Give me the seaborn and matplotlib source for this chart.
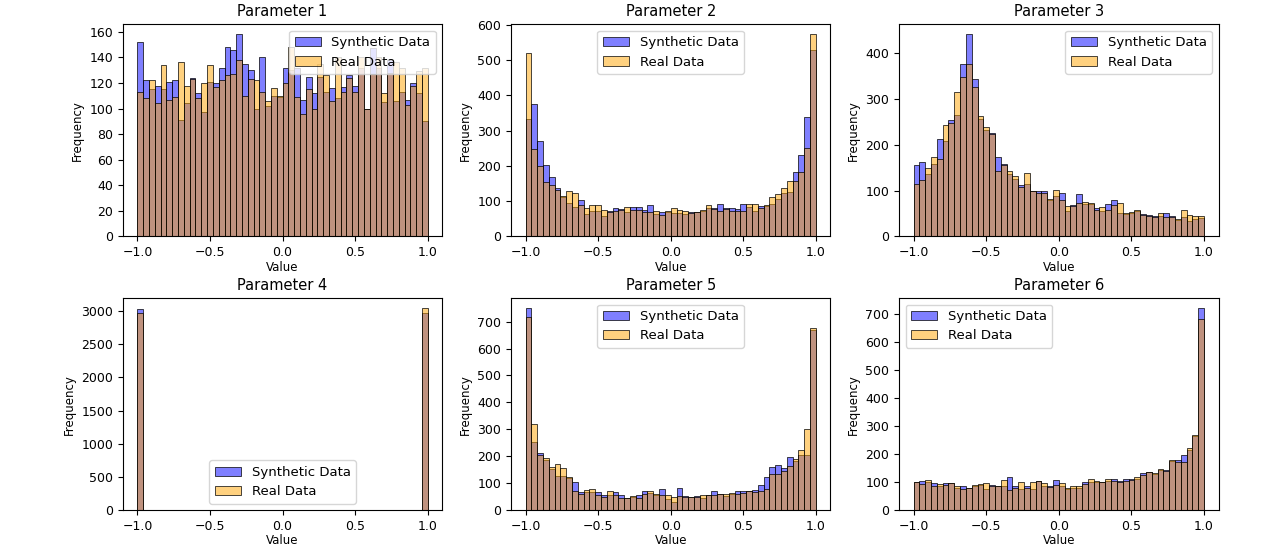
import numpy as np
import pandas as pd
import matplotlib
matplotlib.use("Agg")
import matplotlib.pyplot as plt
from matplotlib.ticker import MultipleLocator
import seaborn as sns

# 50 equal-width bins over [-1, 1]
bin_edges = np.linspace(-1.0, 1.0, 51)
bin_centers = (bin_edges[:-1] + bin_edges[1:]) / 2

param_names = ["Parameter 1", "Parameter 2", "Parameter 3",
               "Parameter 4", "Parameter 5", "Parameter 6"]
legend_locs = ["upper right", "upper center", "upper right",
               "lower center", "upper center", "upper left"]

# bin counts
synthetic_p1 = [152, 122, 115, 118, 115, 121, 122, 91, 104, 124,
                112, 97, 121, 120, 132, 148, 146, 158, 135, 130,
                100, 140, 102, 110, 109, 132, 130, 132, 107, 125,
                112, 125, 113, 116, 108, 117, 126, 118, 132, 100,
                147, 132, 105, 138, 106, 113, 107, 120, 112, 90]
real_p1 = [113, 108, 122, 104, 134, 107, 109, 136, 118, 123,
           108, 120, 134, 117, 122, 126, 127, 138, 110, 123,
           122, 113, 106, 116, 110, 120, 148, 109, 96, 115,
           100, 135, 126, 106, 140, 113, 124, 113, 140, 100,
           127, 140, 112, 128, 136, 132, 103, 118, 129, 132]

synthetic_p2 = [333, 375, 270, 203, 168, 138, 113, 95, 83, 104,
                65, 73, 72, 57, 72, 80, 78, 70, 83, 84,
                75, 90, 65, 68, 70, 66, 66, 65, 68, 68,
                73, 80, 82, 92, 80, 80, 77, 92, 83, 72,
                85, 85, 93, 107, 122, 125, 183, 232, 338, 530]
real_p2 = [520, 248, 200, 153, 145, 132, 115, 128, 122, 90,
           80, 90, 88, 75, 70, 72, 75, 83, 74, 76,
           68, 68, 72, 60, 73, 80, 75, 73, 67, 69,
           75, 88, 78, 72, 79, 72, 72, 72, 91, 92,
           82, 89, 113, 120, 138, 157, 158, 183, 250, 573]

synthetic_p3 = [155, 162, 137, 158, 212, 207, 253, 265, 375, 440,
                342, 255, 232, 225, 172, 157, 137, 125, 112, 115,
                98, 100, 98, 79, 88, 95, 56, 68, 93, 70,
                70, 62, 55, 70, 80, 52, 48, 50, 56, 48,
                46, 45, 45, 50, 45, 36, 42, 33, 38, 40]
real_p3 = [115, 123, 148, 173, 168, 242, 246, 315, 348, 375,
           325, 262, 238, 224, 143, 156, 143, 132, 108, 138,
           100, 95, 94, 82, 102, 80, 66, 67, 73, 75,
           72, 58, 65, 58, 68, 72, 50, 53, 58, 46,
           45, 42, 50, 43, 42, 38, 58, 47, 45, 44]

synthetic_p4 = [3025, 0, 0, 0, 0, 0, 0, 0, 0, 0,
                0, 0, 0, 0, 0, 0, 0, 0, 0, 0,
                0, 0, 0, 0, 0, 0, 0, 0, 0, 0,
                0, 0, 0, 0, 0, 0, 0, 0, 0, 0,
                0, 0, 0, 0, 0, 0, 0, 0, 0, 2970]
real_p4 = [2970, 0, 0, 0, 0, 0, 0, 0, 0, 0,
           0, 0, 0, 0, 0, 0, 0, 0, 0, 0,
           0, 0, 0, 0, 0, 0, 0, 0, 0, 0,
           0, 0, 0, 0, 0, 0, 0, 0, 0, 0,
           0, 0, 0, 0, 0, 0, 0, 0, 0, 3045]

synthetic_p5 = [750, 252, 212, 185, 152, 128, 128, 118, 103, 68,
                68, 68, 68, 57, 55, 68, 55, 47, 50, 55,
                72, 65, 55, 80, 42, 32, 83, 52, 50, 52,
                45, 58, 72, 62, 52, 60, 70, 72, 72, 75,
                92, 125, 162, 168, 157, 198, 183, 205, 205, 668]
real_p5 = [718, 320, 205, 193, 160, 170, 157, 125, 72, 60,
           75, 78, 55, 48, 70, 58, 47, 46, 52, 46,
           62, 72, 62, 55, 58, 50, 52, 50, 48, 50,
           55, 55, 55, 60, 62, 65, 62, 65, 70, 68,
           72, 78, 133, 135, 145, 165, 190, 225, 300, 678]

synthetic_p6 = [100, 105, 100, 97, 88, 97, 96, 78, 88, 78,
                88, 90, 75, 90, 85, 88, 117, 85, 75, 85,
                75, 103, 88, 85, 108, 88, 75, 80, 80, 102,
                100, 100, 100, 103, 110, 105, 110, 110, 110, 132,
                137, 130, 145, 143, 175, 178, 195, 215, 265, 720]
real_p6 = [102, 92, 108, 88, 92, 90, 97, 88, 75, 80,
           90, 92, 97, 85, 88, 107, 72, 78, 100, 78,
           102, 105, 97, 83, 90, 98, 78, 85, 85, 95,
           110, 103, 100, 110, 103, 100, 105, 107, 118, 125,
           135, 133, 147, 138, 178, 172, 172, 222, 268, 680]

synthetic_counts = [synthetic_p1, synthetic_p2, synthetic_p3,
                    synthetic_p4, synthetic_p5, synthetic_p6]
real_counts = [real_p1, real_p2, real_p3, real_p4, real_p5, real_p6]

plt.rcParams["xtick.labelsize"] = 9
plt.rcParams["ytick.labelsize"] = 9

fig, axes = plt.subplots(2, 3, figsize=(12.8, 5.51), dpi=100)
fig.subplots_adjust(left=0.096, right=0.952, bottom=0.074, top=0.956,
                    wspace=0.215, hspace=0.29)

for ax, name, loc, synth, real in zip(axes.flat, param_names, legend_locs,
                                      synthetic_counts, real_counts):
    df = pd.DataFrame({"value": bin_centers, "synthetic": synth, "real": real})
    sns.histplot(data=df, x="value", weights="synthetic", bins=50, binrange=(-1, 1),
                 color="blue", alpha=0.5, edgecolor="black", linewidth=0.5,
                 label="Synthetic Data", ax=ax)
    sns.histplot(data=df, x="value", weights="real", bins=50, binrange=(-1, 1),
                 color="orange", alpha=0.5, edgecolor="black", linewidth=0.5,
                 label="Real Data", ax=ax)
    ax.set_title(name, fontsize=10.5)
    ax.set_xlabel("Value", fontsize=8.5, labelpad=1)
    ax.set_ylabel("Frequency", fontsize=8.5)
    ax.legend(loc=loc, fontsize=9.5)

# first panel uses steps of 20 on the count axis
axes[0, 0].yaxis.set_major_locator(MultipleLocator(20))

fig.savefig("out.png", dpi=100)
